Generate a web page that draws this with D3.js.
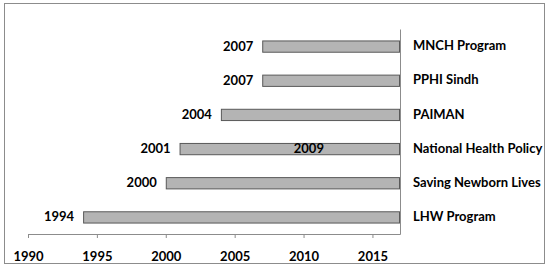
<!DOCTYPE html>
<html>
<head>
<meta charset="utf-8">
<script src="https://cdn.jsdelivr.net/npm/d3@7"></script>
<style>
  body { margin: 0; background: #fff; }
  text { font-family: Lato, "Open Sans", sans-serif; font-weight: bold; font-size: 13px; fill: #000; }
</style>
</head>
<body>
<svg id="chart" width="550" height="269"></svg>
<script>
const programs = ["MNCH Program", "PPHI Sindh", "PAIMAN", "National Health Policy", "Saving Newborn Lives", "LHW Program"];
const startYears = [2007, 2007, 2004, 2001, 2000, 1994];
const endYear = 2017;
const extraLabels = [{ program: "National Health Policy", year: 2009 }];
const xTicks = [1990, 1995, 2000, 2005, 2010, 2015];

const svg = d3.select("#chart");

svg.append("rect")
  .attr("x", 4.5).attr("y", 3.5)
  .attr("width", 540).attr("height", 260)
  .attr("fill", "none")
  .attr("stroke", "#8c8c8c");

const data = programs.map((p, i) => ({ program: p, start: startYears[i] }));

const xScale = d3.scaleLinear().domain([1990, endYear]).range([28, 400]);
const yScale = d3.scaleBand().domain(programs).range([29, 234])
  .paddingInner(0.67).paddingOuter(0.335);

// bottom axis
const xAxis = svg.append("g")
  .attr("transform", "translate(0, 234)")
  .call(d3.axisBottom(xScale).tickValues(xTicks).tickFormat(d3.format("d")).tickSize(4).tickSizeOuter(0));
xAxis.select(".domain").attr("stroke", "#8c8c8c");
xAxis.selectAll(".tick line").attr("stroke", "#8c8c8c");
xAxis.selectAll(".tick text").attr("dy", "1.5em").style("font-size", "13px");

// right category axis
const yAxis = svg.append("g")
  .attr("transform", `translate(${xScale(endYear)}, 0)`)
  .call(d3.axisRight(yScale).tickSize(0).tickPadding(13));
yAxis.select(".domain").attr("stroke", "#8c8c8c");
yAxis.selectAll(".tick text").style("font-size", "13px");

svg.selectAll(".bar")
  .data(data)
  .enter()
  .append("rect")
  .attr("class", "bar")
  .attr("x", (d) => xScale(d.start) + 0.5)
  .attr("y", (d) => yScale(d.program) + 0.5)
  .attr("width", (d) => xScale(endYear) - xScale(d.start) - 1)
  .attr("height", yScale.bandwidth())
  .attr("fill", "#b4b4b4")
  .attr("stroke", "#595959");

svg.selectAll(".start-label")
  .data(data)
  .enter()
  .append("text")
  .attr("class", "start-label")
  .attr("x", (d) => xScale(d.start) - 9)
  .attr("y", (d) => yScale(d.program) + yScale.bandwidth() / 2)
  .attr("dy", "0.35em")
  .attr("text-anchor", "end")
  .text((d) => d.start);

svg.selectAll(".extra-label")
  .data(extraLabels)
  .enter()
  .append("text")
  .attr("class", "extra-label")
  .attr("x", (d) => xScale(d.year) + 4)
  .attr("y", (d) => yScale(d.program) + yScale.bandwidth() / 2)
  .attr("dy", "0.35em")
  .text((d) => d.year);
</script>
</body>
</html>
